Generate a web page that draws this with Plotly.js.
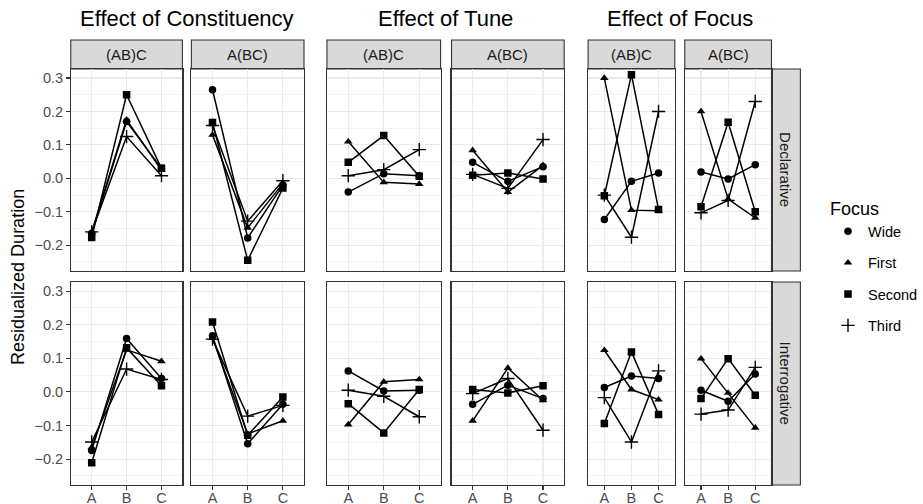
<!DOCTYPE html>
<html>
<head>
<meta charset="utf-8">
<script src="https://cdn.plot.ly/plotly-3.0.1.min.js"></script>
<style>html,body{margin:0;padding:0;background:#fff;}#chart{width:923px;height:504px;}</style>
</head>
<body>
<div id="chart"></div>
<script>
// ---- data ----
const categories = ['A', 'B', 'C'];
const focusLevels = ['Wide', 'First', 'Second', 'Third'];
const effectTitles = ['Effect of Constituency', 'Effect of Tune', 'Effect of Focus'];
const constituencyLabels = ['(AB)C', 'A(BC)'];
const tuneLabels = ['Declarative', 'Interrogative'];
const yTickVals = [-0.2, -0.1, 0.0, 0.1, 0.2, 0.3];

// each panel: rows = Wide, First, Second, Third ; columns = A, B, C
const constituency_Declarative_ABC = [[-0.165, 0.170, 0.030], [-0.160, 0.175, 0.025], [-0.177, 0.250, 0.030], [-0.160, 0.125, 0.008]];
const constituency_Declarative_A_BC = [[0.265, -0.178, -0.020], [0.130, -0.148, -0.015], [0.167, -0.245, -0.029], [0.158, -0.128, -0.007]];
const constituency_Interrogative_ABC = [[-0.174, 0.159, 0.040], [-0.165, 0.125, 0.091], [-0.211, 0.131, 0.018], [-0.149, 0.068, 0.037]];
const constituency_Interrogative_A_BC = [[0.167, -0.154, -0.037], [0.160, -0.125, -0.086], [0.208, -0.129, -0.015], [0.157, -0.072, -0.040]];

const tune_Declarative_ABC = [[-0.041, 0.014, 0.008], [0.110, -0.012, -0.017], [0.048, 0.128, 0.006], [0.008, 0.026, 0.086]];
const tune_Declarative_A_BC = [[0.048, -0.009, 0.035], [0.084, -0.041, 0.039], [0.009, 0.016, -0.002], [0.012, -0.030, 0.116]];
const tune_Interrogative_ABC = [[0.0625, 0.003, 0.005], [-0.097, 0.030, 0.037], [-0.035, -0.122, 0.007], [0.005, -0.013, -0.074]];
const tune_Interrogative_A_BC = [[-0.037, 0.020, -0.020], [-0.086, 0.071, -0.025], [0.007, -0.003, 0.018], [-0.005, 0.040, -0.114]];

const focus_Declarative_ABC = [[-0.123, -0.009, 0.016], [0.300, -0.095, -0.097], [-0.052, 0.310, -0.093], [-0.050, -0.176, 0.200]];
const focus_Declarative_A_BC = [[0.019, -0.002, 0.041], [0.200, -0.062, -0.118], [-0.085, 0.168, -0.100], [-0.103, -0.066, 0.230]];
const focus_Interrogative_ABC = [[0.013, 0.047, 0.040], [0.124, 0.007, -0.023], [-0.094, 0.119, -0.067], [-0.017, -0.149, 0.0625]];
const focus_Interrogative_A_BC = [[0.005, -0.028, 0.053], [0.099, -0.003, -0.107], [-0.020, 0.099, -0.010], [-0.066, -0.054, 0.073]];

// ---- layout geometry (pixels) ----
const W = 923, H = 504;
const groupPanels = [[[71, 183], [192, 305]], [[328, 442], [453, 566]], [[590, 677], [687, 774]]];
const rowPix = [[69, 271], [282, 485]];
const stripTop = 40;
const rightStrip = [774, 803];
const panelData = [
  [[constituency_Declarative_ABC, constituency_Declarative_A_BC], [constituency_Interrogative_ABC, constituency_Interrogative_A_BC]],
  [[tune_Declarative_ABC, tune_Declarative_A_BC], [tune_Interrogative_ABC, tune_Interrogative_A_BC]],
  [[focus_Declarative_ABC, focus_Declarative_A_BC], [focus_Interrogative_ABC, focus_Interrogative_A_BC]]
];

const px = v => v / W;
const py = v => 1 - v / H;
const FONT = 'Liberation Sans, Arial, Helvetica, sans-serif';
const symbols = ['circle', 'triangle-up', 'square', 'cross-thin'];
const sizes = [7.5, 7.5, 7.5, 9.5];

const traces = [];
const layout = {
  width: W, height: H,
  margin: {l: 0, r: 0, t: 0, b: 0},
  paper_bgcolor: '#ffffff',
  plot_bgcolor: '#ffffff',
  font: {family: FONT, color: '#000000'},
  showlegend: true,
  legend: {
    x: px(831), y: py(192), xanchor: 'left', yanchor: 'top',
    title: {text: 'Focus', font: {size: 18, family: FONT, color: '#000'}},
    font: {size: 14.5, family: FONT, color: '#000'},
    bgcolor: 'rgba(0,0,0,0)', borderwidth: 0,
    traceorder: 'grouped', tracegroupgap: 9.5, itemwidth: 30
  },
  shapes: [],
  annotations: []
};

let n = 0;
for (let g = 0; g < 3; g++) {
  for (let r = 0; r < 2; r++) {
    for (let c = 0; c < 2; c++) {
      n++;
      const xa = 'xaxis' + (n > 1 ? n : '');
      const ya = 'yaxis' + (n > 1 ? n : '');
      const xr = 'x' + (n > 1 ? n : '');
      const yr = 'y' + (n > 1 ? n : '');
      const [x0, x1] = groupPanels[g][c];
      const [y0, y1] = rowPix[r];
      layout[xa] = {
        domain: [px(x0), px(x1)], anchor: yr,
        type: 'category', categoryorder: 'array', categoryarray: categories,
        range: [-0.6, 2.6], fixedrange: true,
        showgrid: true, gridcolor: '#ebebeb', gridwidth: 1.1,
        zeroline: false,
        showline: true, mirror: true, linecolor: '#333333', linewidth: 1.1,
        ticks: r === 1 ? 'outside' : '', ticklen: 3.7, tickwidth: 1.1, tickcolor: '#333333',
        showticklabels: r === 1, ticklabelstandoff: -4,
        tickfont: {size: 14.5, color: '#4d4d4d', family: FONT}
      };
      layout[ya] = {
        domain: [py(y1), py(y0)], anchor: xr,
        range: [-0.277, 0.327], fixedrange: true,
        tickmode: 'array', tickvals: yTickVals, tickformat: '.1f',
        showgrid: true, gridcolor: '#ebebeb', gridwidth: 1.1,
        minor: {dtick: 0.05, tick0: 0, showgrid: true, gridcolor: '#ebebeb', gridwidth: 0.55, ticks: ''},
        zeroline: false,
        showline: true, mirror: true, linecolor: '#333333', linewidth: 1.1,
        ticks: (g === 0 && c === 0) ? 'outside' : '', ticklen: 3.7, tickwidth: 1.1, tickcolor: '#333333',
        showticklabels: (g === 0 && c === 0),
        tickfont: {size: 14.5, color: '#4d4d4d', family: FONT}
      };
      const data = panelData[g][r][c];
      for (let f = 0; f < 4; f++) {
        traces.push({
          type: 'scatter', mode: 'lines+markers',
          x: categories, y: data[f],
          xaxis: xr, yaxis: yr,
          name: focusLevels[f], legendgroup: focusLevels[f], showlegend: false,
          line: {color: '#000000', width: 1.5},
          marker: {symbol: symbols[f], size: sizes[f], color: '#000000', line: {color: '#000000', width: f === 3 ? 1.4 : 0}},
          hoverinfo: 'x+y+name'
        });
      }
      if (r === 0) {
        layout.shapes.push({type: 'rect', xref: 'paper', yref: 'paper', x0: px(x0), x1: px(x1), y0: py(y0), y1: py(stripTop),
          fillcolor: '#d9d9d9', line: {color: '#333333', width: 1.1}, layer: 'below'});
        layout.annotations.push({xref: 'paper', yref: 'paper', x: px((x0 + x1) / 2), y: py((y0 + stripTop) / 2),
          text: constituencyLabels[c], showarrow: false, xanchor: 'center', yanchor: 'middle',
          font: {size: 15, color: '#1a1a1a', family: FONT}});
      }
      if (g === 2 && c === 1) {
        layout.shapes.push({type: 'rect', xref: 'paper', yref: 'paper', x0: px(rightStrip[0]), x1: px(rightStrip[1]), y0: py(y1), y1: py(y0),
          fillcolor: '#d9d9d9', line: {color: '#333333', width: 1.1}, layer: 'below'});
        layout.annotations.push({xref: 'paper', yref: 'paper', x: px((rightStrip[0] + rightStrip[1]) / 2), y: py((y0 + y1) / 2),
          text: tuneLabels[r], showarrow: false, xanchor: 'center', yanchor: 'middle', textangle: 90,
          font: {size: 15, color: '#1a1a1a', family: FONT}});
      }
    }
  }
  const gx0 = groupPanels[g][0][0];
  const gx1 = groupPanels[g][1][1];
  const cx = g === 2 ? 682 : (gx0 + gx1) / 2;
  layout.annotations.push({xref: 'paper', yref: 'paper', x: px(cx), y: py(19),
    text: effectTitles[g], showarrow: false, xanchor: 'center', yanchor: 'middle',
    font: {size: 22, color: '#000000', family: FONT}});
}

layout.annotations.push({xref: 'paper', yref: 'paper', x: px(18), y: py(277),
  text: 'Residualized Duration', showarrow: false, xanchor: 'center', yanchor: 'middle', textangle: -90,
  font: {size: 18, color: '#000000', family: FONT}});

for (let f = 0; f < 4; f++) {
  traces.push({
    type: 'scatter', mode: 'markers', x: [null], y: [null], xaxis: 'x', yaxis: 'y',
    name: focusLevels[f], legendgroup: focusLevels[f], showlegend: true,
    marker: {symbol: symbols[f], size: sizes[f], color: '#000000', line: {color: '#000000', width: f === 3 ? 1.4 : 0}},
    hoverinfo: 'skip'
  });
}

Plotly.newPlot('chart', traces, layout, {displayModeBar: false, staticPlot: true});
</script>
</body>
</html>
